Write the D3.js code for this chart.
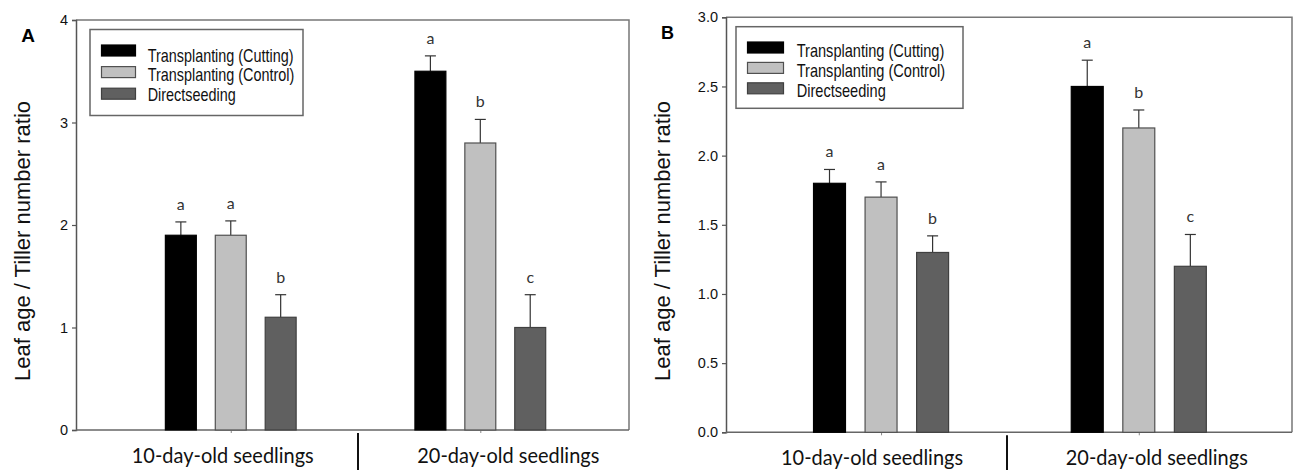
<!DOCTYPE html>
<html>
<head>
<meta charset="utf-8">
<script src="https://cdn.jsdelivr.net/npm/d3@7"></script>
<style>
  html, body { margin: 0; padding: 0; background: #fff; }
  svg { display: block; }
</style>
</head>
<body>
<svg id="chart" width="1293" height="470"></svg>
<script>
// ---------- DATA ----------
const groups = ["10-day-old seedlings", "20-day-old seedlings"];
const series = ["Transplanting (Cutting)", "Transplanting (Control)", "Directseeding"];

// Panel A
const aTicks = [0, 1, 2, 3, 4];
const aCutting = [1.9, 3.5];
const aControl = [1.9, 2.8];
const aDirect = [1.1, 1.0];
const aCuttingErr = [0.13, 0.15];
const aControlErr = [0.14, 0.23];
const aDirectErr = [0.22, 0.32];
const aCuttingSig = ["a", "a"];
const aControlSig = ["a", "b"];
const aDirectSig = ["b", "c"];

// Panel B
const bTicks = [0, 0.5, 1.0, 1.5, 2.0, 2.5, 3.0];
const bCutting = [1.8, 2.5];
const bControl = [1.7, 2.2];
const bDirect = [1.3, 1.2];
const bCuttingErr = [0.10, 0.19];
const bControlErr = [0.11, 0.13];
const bDirectErr = [0.12, 0.23];
const bCuttingSig = ["a", "a"];
const bControlSig = ["a", "b"];
const bDirectSig = ["b", "c"];

const yTitle = "Leaf age / Tiller number ratio";

// ---------- STYLE ----------
const fills = ["#000000", "#c0c0c0", "#606060"];
const strokes = ["#000000", "#505050", "#404040"];
const sans = "'Liberation Sans', Arial, sans-serif";
const cal = "Lato, 'Open Sans', sans-serif";

const svg = d3.select("#chart");

function drawPanel(cfg) {
  const g = svg.append("g");
  const y = d3.scaleLinear().domain([0, cfg.yMax]).range([cfg.bottom, cfg.top]);
  const x = d3.scalePoint().domain(groups).range([cfg.left, cfg.right]).padding(cfg.pad).align(cfg.align);
  const step = x.step();
  const inner = d3.scaleBand().domain(series).range([-0.3 * step, 0.3 * step]).paddingInner(0.38).paddingOuter(0.19);

  // frame (top & right)
  g.append("path")
    .attr("d", `M${cfg.left},${cfg.top}H${cfg.right}V${cfg.bottom}`)
    .attr("fill", "none").attr("stroke", "#777").attr("stroke-width", 1.5);

  // y axis
  const yAxis = d3.axisLeft(y).tickValues(cfg.ticks).tickSize(4).tickPadding(4)
    .tickFormat(cfg.fmt);
  const ya = g.append("g").attr("transform", `translate(${cfg.left},0)`).call(yAxis);
  ya.select(".domain").attr("stroke", "#555").attr("stroke-width", 1.5);
  ya.selectAll(".tick line").attr("stroke", "#555").attr("stroke-width", 1.2);
  ya.selectAll(".tick text").attr("font-family", sans).attr("font-size", 14.5).attr("fill", "#111");

  // x axis
  const xAxis = d3.axisBottom(x).tickSize(3).tickFormat("");
  const xa = g.append("g").attr("transform", `translate(0,${cfg.bottom})`).call(xAxis);
  xa.select(".domain").attr("stroke", "#666").attr("stroke-width", 1.5)
    .attr("d", `M${cfg.left},0H${cfg.right}`);
  xa.selectAll(".tick line").attr("stroke", "#888").attr("stroke-width", 1);

  // divider between groups
  const mid = cfg.divider;
  g.append("line").attr("x1", mid).attr("x2", mid)
    .attr("y1", cfg.bottom + 3).attr("y2", 472)
    .attr("stroke", "#111").attr("stroke-width", 2);

  // category labels
  g.selectAll("text.cat").data(groups).enter().append("text")
    .attr("class", "cat")
    .attr("x", (d, i) => x(d) + cfg.labelShift[i])
    .attr("y", cfg.labelY)
    .attr("text-anchor", "middle")
    .attr("font-family", cal).attr("font-size", 22)
    .attr("textLength", 182).attr("lengthAdjust", "spacingAndGlyphs")
    .attr("fill", "#111")
    .text(d => d);

  // bars
  cfg.vals.forEach((vals, si) => {
    const s = series[si];
    const bw = inner.bandwidth();
    const gs = g.append("g");
    groups.forEach((grp, gi) => {
      const cx = x(grp) + inner(s) + bw / 2;
      const v = vals[gi];
      const e = cfg.errs[si][gi];
      gs.append("line").attr("x1", cx).attr("x2", cx)
        .attr("y1", y(v)).attr("y2", y(v + e))
        .attr("stroke", "#333").attr("stroke-width", 1.2);
      gs.append("line").attr("x1", cx - 5.5).attr("x2", cx + 5.5)
        .attr("y1", y(v + e)).attr("y2", y(v + e))
        .attr("stroke", "#333").attr("stroke-width", 1.2);
      gs.append("rect")
        .attr("x", x(grp) + inner(s)).attr("width", bw)
        .attr("y", y(v)).attr("height", y(0) - y(v))
        .attr("fill", fills[si]).attr("stroke", strokes[si]).attr("stroke-width", 1.2);
      gs.append("text")
        .attr("x", cx).attr("y", y(v + e) - 12)
        .attr("text-anchor", "middle")
        .attr("font-family", cal).attr("font-size", 16).attr("fill", "#333")
        .text(cfg.sigs[si][gi]);
    });
  });

  // legend
  const L = cfg.legend;
  g.append("rect").attr("x", L.x).attr("y", L.y).attr("width", L.w).attr("height", L.h)
    .attr("fill", "#fff").attr("stroke", "#666").attr("stroke-width", 1.5);
  series.forEach((s, i) => {
    const cy = L.y + L.first + i * L.gap;
    g.append("rect").attr("x", L.x + 11.5).attr("y", cy - 5.5).attr("width", L.sw).attr("height", 11)
      .attr("fill", fills[i]).attr("stroke", strokes[i]).attr("stroke-width", 1.2);
    g.append("text")
      .attr("transform", `translate(${L.x + L.tx},${L.y + L.tfirst + i * L.tgap}) scale(${L.sx},1)`)
      .attr("font-family", sans).attr("font-size", 18).attr("fill", "#111")
      .text(s);
  });

  // panel letter
  g.append("text").attr("x", cfg.letter[0]).attr("y", cfg.letter[1])
    .attr("text-anchor", "middle")
    .attr("font-family", sans).attr("font-weight", "bold").attr("font-size", cfg.letter[2])
    .text(cfg.name);

  // y title
  g.append("text")
    .attr("transform", `translate(${cfg.titleX},${cfg.titleY}) rotate(-90)`)
    .attr("text-anchor", "middle")
    .attr("font-family", sans).attr("font-size", 22).attr("fill", "#111")
    .text(yTitle);
}

drawPanel({
  name: "A", left: 76, right: 629, top: 20, bottom: 430, yMax: 4,
  ticks: aTicks, fmt: d3.format("d"), pad: 0.608, align: 0.51,
  vals: [aCutting, aControl, aDirect],
  errs: [aCuttingErr, aControlErr, aDirectErr],
  sigs: [aCuttingSig, aControlSig, aDirectSig],
  divider: 358, labelShift: [-8, 28], labelY: 463,
  legend: { x: 90, y: 29.5, w: 213, h: 86, first: 21, gap: 21.6, sw: 34, tx: 57.7, tfirst: 32, tgap: 19.8, sx: 0.8 },
  letter: [28, 41.5, 19], titleX: 30, titleY: 241
});

drawPanel({
  name: "B", left: 726, right: 1292, top: 17.3, bottom: 432.3, yMax: 3,
  ticks: bTicks, fmt: d3.format(".1f"), pad: 0.598, align: 0.503,
  vals: [bCutting, bControl, bDirect],
  errs: [bCuttingErr, bControlErr, bDirectErr],
  sigs: [bCuttingSig, bControlSig, bDirectSig],
  divider: 1007, labelShift: [-9, 18], labelY: 465,
  legend: { x: 736, y: 26.7, w: 227, h: 81.6, first: 20.8, gap: 20.4, sw: 36, tx: 60.7, tfirst: 30, tgap: 20, sx: 0.81 },
  letter: [667.5, 39.3, 18], titleX: 670, titleY: 241
});
</script>
</body>
</html>
